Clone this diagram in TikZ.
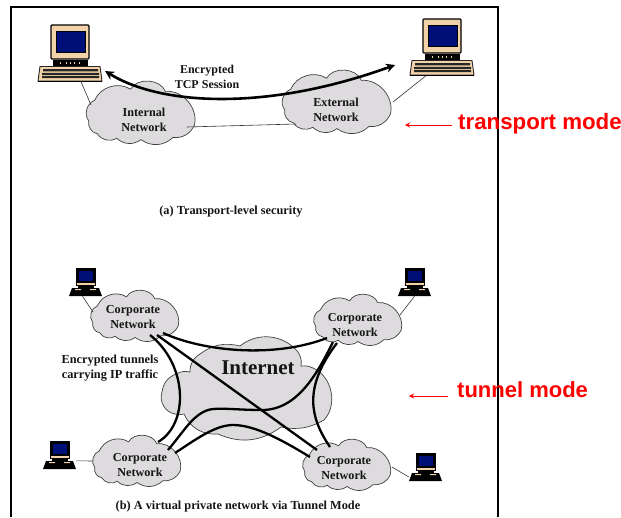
\documentclass[tikz,border=0pt]{standalone}
\usepackage{fontspec}
\setmainfont{Liberation Serif}
\newfontfamily\redfont{Liberation Sans}
\usetikzlibrary{shapes.geometric,arrows.meta,calc}
\definecolor{cloudgray}{HTML}{DDDBDD}
\definecolor{pctan}{HTML}{F2D2A9}
\definecolor{pcnavy}{HTML}{000F78}
\definecolor{ink}{HTML}{151515}
\tikzset{
  cloudline/.style={draw=black!75,fill=cloudgray,line width=0.7pt},
  cloudlabel/.style={ellipse,inner sep=0pt,align=center,text=ink,font=\fontsize{12.2}{15}\selectfont\bfseries},
  captext/.style={text=ink,font=\fontsize{12.3}{15}\selectfont\bfseries,align=center,inner sep=0pt},
  thinlink/.style={draw=black!80,line width=0.6pt},
  tunnel/.style={draw=black,line width=2.3pt},
  redlabel/.style={text=red,font=\redfont\bfseries,inner sep=0pt},
  redarrow/.style={draw=red,line width=0.7pt,-{Stealth[length=5pt,width=5pt]}},
}
\newcommand{\unitcloud}[4]{%
  \begin{scope}[shift={(#1,#2)},x=#3pt,y=-#4pt]
    \path[cloudline] (-0.80,-0.35) to[bend left=50] (-0.18,-0.66) to[bend left=65] (0.42,-0.60)
      to[bend left=55] (0.92,0.34) to[bend left=35] (0.55,0.68) to[bend left=40] (0.00,0.74)
      to[bend left=40] (-0.42,0.70) to[bend left=45] (-0.75,0.58) to[bend left=45] (-0.90,0.22)
      to[bend left=55] cycle;
  \end{scope}}
\newcommand{\bigpc}[3]{%
  \begin{scope}[shift={(#2,#3)}]
    \draw[black,fill=pctan,line width=1.4pt,rounded corners=1pt] (0,0) rectangle (38,34);
    \fill[pcnavy] (5,6) rectangle (34,27);
    \draw[black,line width=0.8pt] (5,6) rectangle (34,27);
    \fill[black] (2,35) rectangle (37,42);
    \fill[pctan] (5,41) rectangle (12,43) (25,41) rectangle (33,43);
    \foreach \p in {9,15,19,23,28} {\fill[pctan] (\p,36.5) rectangle ++(1,2);}
    \node[inner sep=0pt,minimum width=64pt,minimum height=15pt] (#1) at (19,49) {};
    \draw[black!85,fill=pctan,line width=0.9pt] (-11,41.5) -- (49,41.5) -- (51,56) -- (-13,56) -- cycle;
    \fill[black!85] (-8,44) rectangle (47,46.3) (-9,47.8) rectangle (48,50) (-9,51.2) rectangle (48,53.2);
    \fill[black] (-13,56) rectangle (51,56.8);
  \end{scope}}
\newcommand{\smallpc}[3]{%
  \begin{scope}[shift={(#2,#3)}]
    \fill[black] (0,0) rectangle (20,18);
    \fill[pcnavy] (3,3) rectangle (16.5,13);
    \fill[pctan] (1,14.5) rectangle (19,16.5);
    \fill[black] (2,18) rectangle (18,21);
    \fill[black] (-4,20) -- (23,20) -- (26,28) -- (-7,28) -- cycle;
    \fill[pctan] (-1,21) rectangle (5,22.2) (14,21) rectangle (20,22.2);
    \node[inner sep=0pt,minimum width=33pt,minimum height=8pt] (#1) at (9.5,24) {};
  \end{scope}}
\begin{document}
\begin{tikzpicture}[x=1pt,y=-1pt]
\useasboundingbox (0,0) rectangle (621,517);
\fill[white] (0,0) rectangle (621,517);
\draw[black,line width=1.6pt] (11,517) -- (11,7) -- (498,7) -- (498,517);

% --- upper panel ---
\bigpc{pcA}{51}{25}
\bigpc{pcB}{423}{19}
\unitcloud{141}{113}{58}{36}
\unitcloud{337}{102}{58}{36}
\node[cloudlabel,minimum width=112pt,minimum height=60pt] (int) at (144,120) {Internal\\Network};
\node[cloudlabel,minimum width=112pt,minimum height=60pt] (ext) at (336,110) {External\\Network};
\draw[thinlink] ($(pcA.south)+(11,0)$) -- ($(int)+(-53,-15)$);
\draw[thinlink] ($(pcB.south)+(-16,0)$) -- ($(ext)+(57,-8)$);
\draw[thinlink] ($(int)+(43,7)$) -- ($(ext)+(-40,14)$);
\node[captext,font=\fontsize{12}{15}\selectfont\bfseries] (enc) at (207,77) {Encrypted\\TCP Session};
\coordinate (sessA) at (105,71);
\coordinate (sessB) at (395,65);
\draw[black,line width=2.6pt,{Stealth[length=9pt,width=9pt]}-{Stealth[length=9pt,width=9pt]}]
  (sessA) .. controls (160,105) and (265,112) .. (sessB);
\node[captext] (capA) at (231,212) {(a) Transport-level security};

\node[redlabel,anchor=west,font=\redfont\bfseries\fontsize{22.3}{26}\selectfont] (tm) at (458,124) {transport mode};
\coordinate (tmTip) at (405,125);
\draw[redarrow] (tm.west) ++(-6,1) -- (tmTip);

% --- lower panel ---
\smallpc{pcC}{76}{268}
\smallpc{pcD}{405}{268}
\smallpc{pcE}{50}{441}
\smallpc{pcF}{416}{453}

% Internet cloud
\path[cloudline] (176,374) to[bend left=20] (190,372) to[bend left=30] (200,354) to[bend left=25] (240,346)
  to[bend left=45] (298,352) to[bend left=20] (301,366) to[bend left=15] (313,368)
  to[bend left=55] (324,420) to[bend left=20] (281,427)
  to[bend left=30] (218,434) to[bend left=35] (184,414) to[bend left=15] (175,414)
  to[bend left=50] (162,392) to[bend left=30] cycle;
\node[ellipse,inner sep=0pt,minimum width=178pt,minimum height=95pt,text=ink,font=\fontsize{21}{24}\selectfont\bfseries] (inet) at (258,368) {Internet};

\unitcloud{135}{316}{47}{29}
\unitcloud{358}{320}{47}{29}
\unitcloud{137}{461}{47}{29}
\unitcloud{347}{465}{47}{29}
\node[cloudlabel,minimum width=90pt,minimum height=50pt] (tl) at (133,317) {Corporate\\Network};
\node[cloudlabel,minimum width=90pt,minimum height=50pt] (tr) at (355,325) {Corporate\\Network};
\node[cloudlabel,minimum width=90pt,minimum height=50pt] (bl) at (140,465) {Corporate\\Network};
\node[cloudlabel,minimum width=90pt,minimum height=50pt] (br) at (344,468) {Corporate\\Network};

\draw[thinlink] ($(pcC.south)+(-3,0)$) -- ($(tl)+(-40,-5)$);
\draw[thinlink] (pcD.south) -- ($(tr)+(45,-10)$);
\draw[thinlink] (pcE.north east) -- ($(bl)+(-47,-4)$);
\draw[thinlink] ($(br)+(48,-1)$) -- (pcF.west);

% tunnels
\draw[tunnel] ($(tl)+(30,16)$) .. controls (205,352) and (275,358) .. ($(tr)+(-28,13)$);
\draw[tunnel] ($(tl)+(17,18)$) .. controls (188,365) and (189,424) .. ($(bl)+(18,-23)$);
\draw[tunnel] ($(tl)+(24,18)$) -- ($(br)+(-27,-18)$);
\draw[tunnel] ($(tr)+(-22,17)$) .. controls (318,372) and (298,410) .. (262,410)
  .. controls (240,410) and (225,408) .. (213,409)
  .. controls (195,411) and (185,430) .. ($(bl)+(28,-15)$);
\draw[tunnel] ($(tr)+(-18,18)$) .. controls (305,385) and (308,415) .. ($(br)+(-14,-21)$);
\draw[tunnel] ($(bl)+(35,-12)$) .. controls (195,440) and (215,425) .. (233,425)
  .. controls (255,425) and (282,440) .. ($(br)+(-34,-11)$);

\node[captext,text=ink] (tun) at (110,368.5) {Encrypted tunnels\\carrying IP traffic};
\node[captext] (capB) at (238,506.5) {(b) A virtual private network via Tunnel Mode};

\node[redlabel,anchor=west,font=\redfont\bfseries\fontsize{22}{26}\selectfont] (tnm) at (457,390) {tunnel mode};
\coordinate (tnmTip) at (409,396);
\draw[redarrow] (tnm.west) ++(-9,6) -- (tnmTip);
\end{tikzpicture}
\end{document}
